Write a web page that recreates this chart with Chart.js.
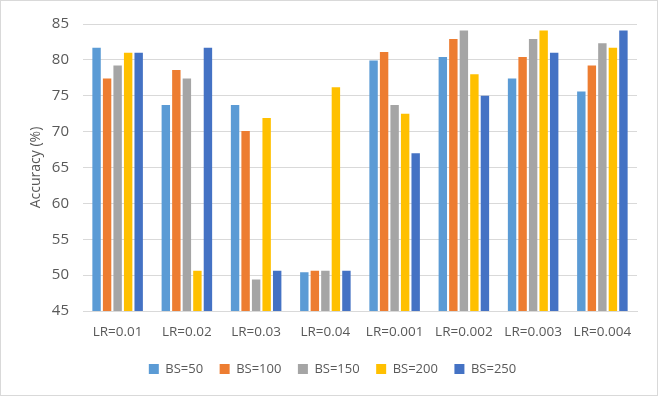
<!DOCTYPE html>
<html>
<head>
<meta charset="utf-8">
<script src="https://cdn.jsdelivr.net/npm/chart.js@4"></script>
<style>
  html, body { margin: 0; padding: 0; background: #fff; }
  #wrap { width: 656px; height: 394px; border: 1px solid #d9d9d9; }
</style>
</head>
<body>
<div id="wrap"><canvas id="acc-chart" width="656" height="394"></canvas></div>
<script>
// categories (learning rates)
const lrLabels = ['LR=0.01', 'LR=0.02', 'LR=0.03', 'LR=0.04', 'LR=0.001', 'LR=0.002', 'LR=0.003', 'LR=0.004'];

// accuracy per batch size
const bs50  = [81.7, 73.7, 73.7, 50.4, 79.9, 80.4, 77.4, 75.6];
const bs100 = [77.4, 78.6, 70.1, 50.6, 81.1, 82.9, 80.4, 79.2];
const bs150 = [79.2, 77.4, 49.4, 50.6, 73.7, 84.1, 82.9, 82.3];
const bs200 = [81.0, 50.6, 71.9, 76.2, 72.5, 78.0, 84.1, 81.7];
const bs250 = [81.0, 81.7, 50.6, 50.6, 67.0, 75.0, 81.0, 84.1];

const seriesNames = ['BS=50', 'BS=100', 'BS=150', 'BS=200', 'BS=250'];
const colors = ['#5B9BD5', '#ED7D31', '#A5A5A5', '#FFC000', '#4472C4'];

// y axis ticks
const yMin = 45, yMax = 85, yStep = 5;

const seriesData = [bs50, bs100, bs150, bs200, bs250];

const data = {
  labels: lrLabels,
  datasets: seriesData.map((vals, i) => ({
    label: seriesNames[i],
    data: vals,
    backgroundColor: colors[i],
    borderWidth: 0,
    categoryPercentage: 0.76,
    barPercentage: 0.8
  }))
};

const config = {
  type: 'bar',
  data,
  options: {
    responsive: false,
    animation: false,
    layout: { padding: { left: 27, right: 20, top: 6.6, bottom: 9.5 } },
    plugins: {
      legend: {
        position: 'bottom',
        labels: {
          boxWidth: 10,
          boxHeight: 10,
          padding: 16.5,
          color: '#595959',
          font: { family: 'Open Sans', size: 13 }
        }
      },
      tooltip: { enabled: false }
    },
    scales: {
      x: {
        afterFit(scale) { scale.height = 35; },
        grid: { display: false, drawTicks: false },
        border: { color: '#d9d9d9' },
        ticks: {
          color: '#595959',
          padding: 13,
          maxRotation: 0,
          font: { family: 'Open Sans', size: 13.5 }
        }
      },
      y: {
        min: yMin,
        max: yMax,
        afterFit(scale) { scale.width = 55; },
        grid: { color: '#d9d9d9', drawTicks: false },
        border: { display: false },
        ticks: {
          stepSize: yStep,
          color: '#595959',
          padding: 14,
          font: { family: 'Open Sans', size: 15 }
        },
        title: {
          display: true,
          text: 'Accuracy (%)',
          color: '#595959',
          padding: 0,
          font: { family: 'Open Sans', size: 14 }
        }
      }
    }
  }
};

const accChart = new Chart(document.getElementById('acc-chart'), config);
</script>
</body>
</html>
